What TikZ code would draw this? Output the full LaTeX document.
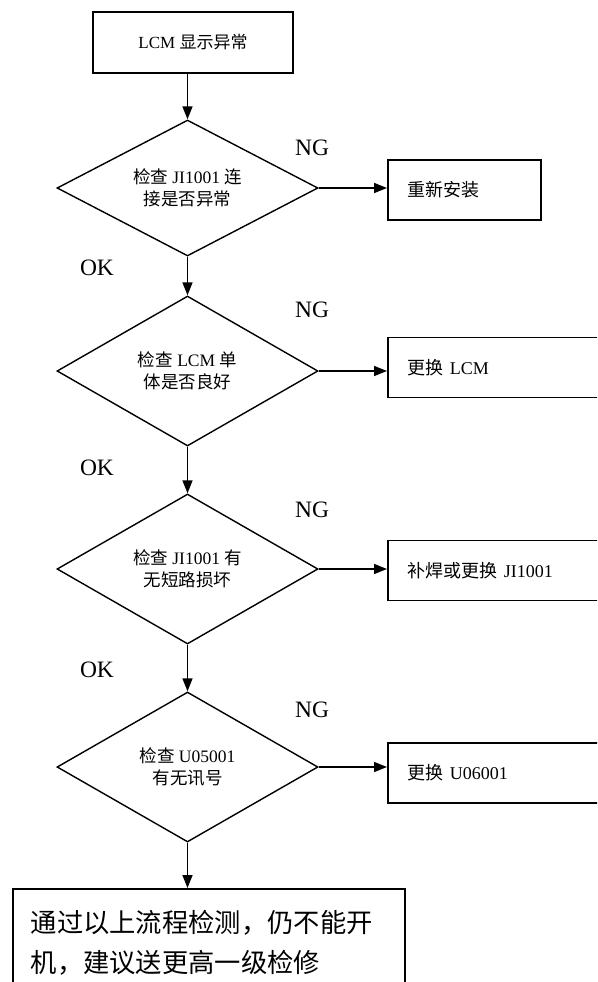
\documentclass[tikz,border=0pt]{standalone}
\usepackage{fontspec}
\setmainfont{Liberation Serif}
\newfontfamily\cjk{Noto Sans CJK SC}
\newcommand{\zh}[1]{{\cjk #1}}
\usetikzlibrary{arrows.meta, shapes.geometric}

\tikzset{
    flow/.style={-{Triangle[length=13pt, width=10pt]}, line width=1.5pt},
    startbox/.style={draw, line width=1.5pt, minimum width=200pt, minimum height=61pt, font=\fontsize{17}{21}\selectfont},
    check/.style={draw, diamond, line width=1.4pt, minimum width=261pt, minimum height=150pt, inner sep=0pt, align=center, font=\fontsize{17.5}{22}\selectfont},
    fixbox/.style={draw, line width=1.5pt, anchor=west, minimum height=60pt, inner xsep=20pt, align=left, font=\fontsize{18}{21}\selectfont},
    verdict/.style={font=\fontsize{23.5}{24}\selectfont},
}

\begin{document}
\begin{tikzpicture}[x=1pt, y=-1pt]
    \useasboundingbox (0,0) rectangle (597,982);
    \clip (0,0) rectangle (597,982);
    \fill[white] (0,0) rectangle (597,982);

    \node[startbox] (start) at (193,42.5) {LCM \zh{显示异常}};

    \node[check, minimum height=136pt, inner sep=-10pt] (chk1) at (187.5,188) {\zh{检查} JI1001 \zh{连}\\\zh{接是否异常}};
    \node[check] (chk2) at (187.5,371) {\zh{检查} LCM \zh{单}\\\zh{体是否良好}};
    \node[check] (chk3) at (187.5,569) {\zh{检查} JI1001 \zh{有}\\\zh{无短路损坏}};
    \node[check] (chk4) at (187.5,767) {\zh{检查} U05001\\\zh{有无讯号}};

    \node[fixbox, minimum width=153pt, text width=113pt] (fix1) at (387,190) {\zh{重新安装}};
    \node[fixbox, minimum width=253pt, text width=213pt] (fix2) at (387,367.5) {\zh{更换} LCM};
    \node[fixbox, minimum width=253pt, text width=213pt] (fix3) at (387,570.5) {\zh{补焊或更换} JI1001};
    \node[fixbox, minimum width=253pt, text width=213pt] (fix4) at (387,773) {\zh{更换} U06001};

    \node[draw, line width=1.5pt, anchor=north west, minimum width=392pt, minimum height=108pt,
          text width=356pt, inner xsep=18pt, align=left, font=\fontsize{26.3}{40}\selectfont]
          (final) at (12,888) {\zh{通过以上流程检测，仍不能开}\\\zh{机，建议送更高一级检修}};

    \node[verdict] (ng1) at (312,148) {NG};
    \node[verdict] (ng2) at (312,310) {NG};
    \node[verdict] (ng3) at (312,510) {NG};
    \node[verdict] (ng4) at (312,710) {NG};
    \node[verdict] (ok1) at (97,268) {OK};
    \node[verdict] (ok2) at (97,468) {OK};
    \node[verdict] (ok3) at (97,670) {OK};

    \draw[flow] (start.south -| chk1.north) -- (chk1.north);
    \draw[flow] (chk1.south) -- (chk2.north);
    \draw[flow] (chk2.south) -- (chk3.north);
    \draw[flow] (chk3.south) -- (chk4.north);
    \draw[flow] (chk4.south) -- (final.north -| chk4.south);

    \draw[flow] (chk1.east) -- (chk1.east -| fix1.west);
    \draw[flow] (chk2.east) -- (chk2.east -| fix2.west);
    \draw[flow] (chk3.east) -- (chk3.east -| fix3.west);
    \draw[flow] (chk4.east) -- (chk4.east -| fix4.west);
\end{tikzpicture}
\end{document}
